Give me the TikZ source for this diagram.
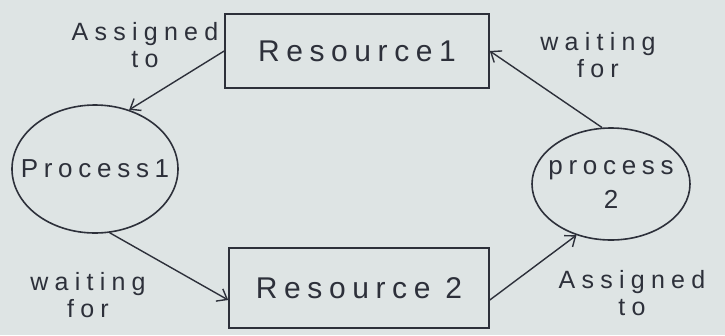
\documentclass[tikz,border=0pt]{standalone}
\usepackage{fontspec}
\setmainfont{Liberation Sans}
\usetikzlibrary{arrows.meta,shapes.geometric}
\definecolor{paper}{RGB}{222,228,228}
\definecolor{ink}{RGB}{45,48,58}
\tikzset{
  box/.style={draw=ink,line width=1.6pt,rectangle,text=ink,font=\fontsize{30}{34}\selectfont\addfontfeature{LetterSpace=22}},
  proc/.style={draw=ink,line width=1.6pt,ellipse,inner sep=0pt,text=ink,align=center,font=\fontsize{26}{34}\selectfont\addfontfeature{LetterSpace=22}},
  lbl/.style={text=ink,align=center,inner sep=0pt,font=\fontsize{25}{27}\selectfont\addfontfeature{LetterSpace=25}},
  conn/.style={draw=ink,line width=1.4pt,-{Straight Barb[length=9pt,width=14pt,line width=1.4pt]}}
}
\begin{document}
\begin{tikzpicture}[x=1pt,y=1pt]
\fill[paper] (0,0) rectangle (725,-335);
\useasboundingbox (0,0) rectangle (725,-335);
\node[box,minimum width=264pt,minimum height=74pt] (r1) at (357,-51) {Resource1};
\node[box,minimum width=260pt,minimum height=80pt] (r2) at (359,-288) {Resource 2};
\node[proc,minimum width=166pt,minimum height=128pt] (p1) at (95,-169) {\makebox[0pt]{Process1}};
\node[proc,minimum width=158pt,minimum height=112pt] (p2) at (611,-184) {\makebox[0pt]{process}\\2};
\node[lbl] (l1) at (145,-45) {Assigned\\to};
\node[lbl] (l2) at (598,-55) {waiting\\for};
\node[lbl] (l3) at (88,-295) {waiting\\for};
\node[lbl] (l4) at (632,-293) {Assigned\\to};
\draw[conn] (r1.west) -- (p1.60);
\draw[conn] (p1.-77) -- ([yshift=-12pt]r2.west);
\draw[conn] ([yshift=-12pt]r2.east) -- (p2.-124);
\draw[conn] (p2.99) -- (r1.east);
\end{tikzpicture}
\end{document}
